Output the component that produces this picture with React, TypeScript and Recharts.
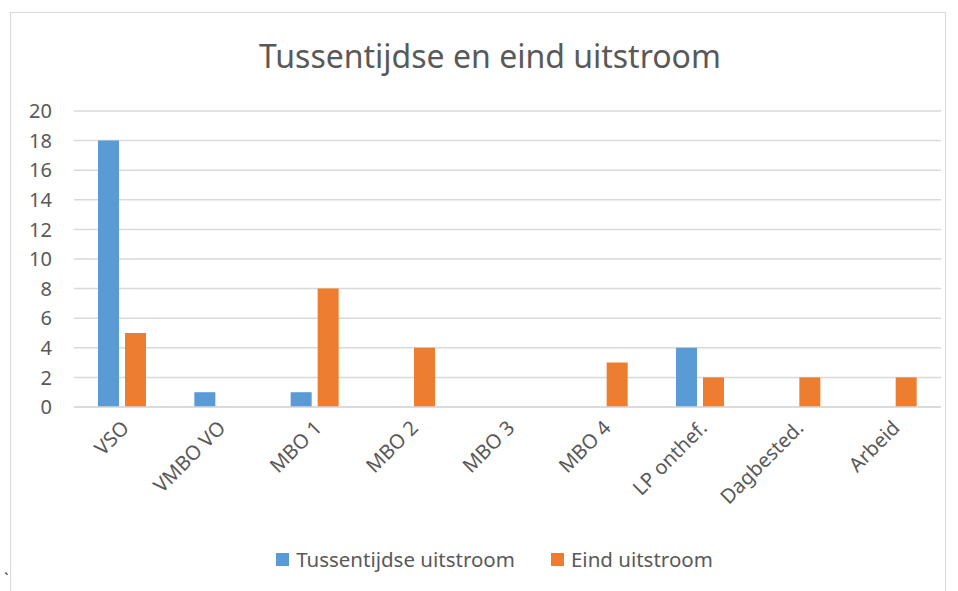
import React from "react";
import { BarChart, Bar, XAxis, YAxis, CartesianGrid, Legend } from "recharts";

const categories = ["VSO", "VMBO VO", "MBO 1", "MBO 2", "MBO 3", "MBO 4", "LP onthef.", "Dagbested.", "Arbeid"];
const tussentijdse = [18, 1, 1, 0, 0, 0, 4, 0, 0];
const eind = [5, 0, 8, 4, 0, 3, 2, 2, 2];
const yTicks = [0, 2, 4, 6, 8, 10, 12, 14, 16, 18, 20];

const data = categories.map((name, i) => ({
  name,
  tussentijdse: tussentijdse[i],
  eind: eind[i],
}));

const FONT = "'Noto Sans', 'Open Sans', sans-serif";
const TEXT = "#595959";

function AngledTick(props: any) {
  const { x, y, payload } = props;
  return (
    <g transform={`translate(${x + 4},${y + 10})`}>
      <text transform="rotate(-45)" textAnchor="end" fill={TEXT} fontSize={20} fontFamily={FONT} dy={6}>
        {payload.value}
      </text>
    </g>
  );
}

function LegendContent() {
  const items = [
    { label: "Tussentijdse uitstroom", color: "#5B9BD5" },
    { label: "Eind uitstroom", color: "#ED7D31" },
  ];
  return (
    <div
      style={{
        display: "flex",
        justifyContent: "center",
        gap: 36,
        paddingLeft: 48,
        fontFamily: FONT,
        fontSize: 20.5,
        color: TEXT,
      }}
    >
      {items.map((it) => (
        <div key={it.label} style={{ display: "flex", alignItems: "center" }}>
          <span style={{ width: 13, height: 13, background: it.color, display: "inline-block", marginRight: 7 }} />
          <span>{it.label}</span>
        </div>
      ))}
    </div>
  );
}

export default function App() {
  return (
    <div style={{ position: "absolute", left: 0, top: 0, width: 958, height: 591, background: "#fff", overflow: "hidden" }}>
      <div style={{ position: "absolute", left: 10, top: 12, width: 934, height: 600, border: "1px solid #D9D9D9" }} />
      <div
        style={{
          position: "absolute",
          left: 0,
          top: 34,
          width: 980,
          textAlign: "center",
          fontFamily: FONT,
          fontSize: 32,
          color: TEXT,
        }}
      >
        Tussentijdse en eind uitstroom
      </div>
      <span style={{ position: "absolute", left: 4, top: 568, fontFamily: FONT, fontSize: 16, color: "#333" }}>`</span>
      <div style={{ position: "absolute", left: 0, top: 0 }}>
        <BarChart
          width={958}
          height={591}
          data={data}
          margin={{ top: 111, right: 17, bottom: 20, left: 0 }}
          barSize={21}
          barGap={6}
        >
          <CartesianGrid vertical={false} stroke="#D9D9D9" strokeWidth={1.5} />
          <YAxis
            domain={[0, 20]}
            ticks={yTicks}
            interval={0}
            axisLine={false}
            tickLine={false}
            tickSize={0}
            tickMargin={22}
            width={74}
            tick={{ fill: TEXT, fontSize: 20, fontFamily: FONT }}
          />
          <XAxis
            dataKey="name"
            interval={0}
            axisLine={{ stroke: "#D9D9D9", strokeWidth: 1.5 }}
            tickLine={false}
            height={128}
            tick={<AngledTick />}
          />
          <Legend verticalAlign="bottom" height={36} wrapperStyle={{ bottom: 10 }} content={<LegendContent />} />
          <Bar dataKey="tussentijdse" name="Tussentijdse uitstroom" fill="#5B9BD5" isAnimationActive={false} />
          <Bar dataKey="eind" name="Eind uitstroom" fill="#ED7D31" isAnimationActive={false} />
        </BarChart>
      </div>
    </div>
  );
}
